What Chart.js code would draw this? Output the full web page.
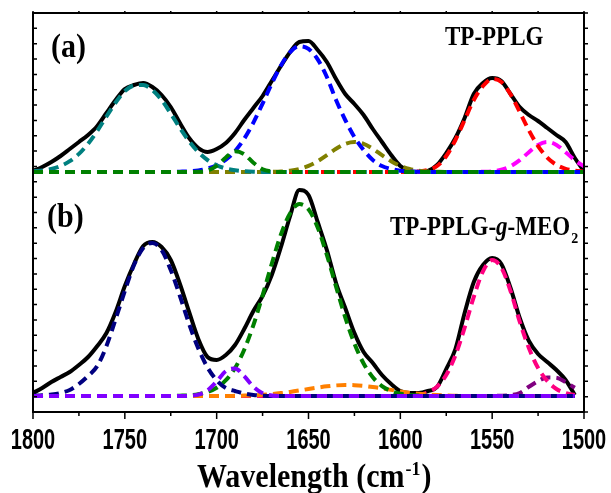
<!DOCTYPE html>
<html>
<head>
<meta charset="utf-8">
<script src="https://cdn.jsdelivr.net/npm/chart.js@4.4.0/dist/chart.umd.min.js"></script>
<style>
  html, body { margin: 0; padding: 0; background: #fff; }
  #wrap { position: relative; width: 611px; height: 493px; }
</style>
</head>
<body>
<div id="wrap"><canvas id="ftir"></canvas></div>
<script>
// wavenumber grid (cm-1), shared by every curve
const wavenumber = [
  1800, 1795, 1790, 1785, 1780, 1775, 1770, 1765, 1760, 1755,
  1750, 1745, 1740, 1735, 1730, 1725, 1720, 1715, 1710, 1705,
  1700, 1695, 1690, 1685, 1680, 1675, 1670, 1665, 1660, 1655,
  1650, 1645, 1640, 1635, 1630, 1625, 1620, 1615, 1610, 1605,
  1600, 1595, 1590, 1585, 1580, 1575, 1570, 1565, 1560, 1555,
  1550, 1545, 1540, 1535, 1530, 1525, 1520, 1515, 1510, 1505,
  1500
];
const xMajorTicks = [1800, 1750, 1700, 1650, 1600, 1550, 1500];
const xMinorTicks = [1775, 1725, 1675, 1625, 1575, 1525];

// (a) TP-PPLG : measured spectrum + fitted bands (a.u.)
const aMeasured = [
  1, 5, 10, 16, 23, 30, 37, 46, 59, 72,
  83, 87, 89, 85, 77, 65, 49, 34, 24, 20,
  23, 29, 39, 52, 64, 76, 91, 106, 120, 130,
  131, 122, 110, 93, 78, 68, 57, 43, 30, 17,
  6, 1, 0, 1, 7, 19, 34, 54, 78, 89,
  94, 91, 78, 65, 57, 51, 44, 37, 30, 14,
  1
];
const aBand1742 = [
  0.7, 1.5, 3.1, 6.0, 10.8, 18.1, 28.3, 41.1, 55.5, 69.5,
  81, 86.5, 87, 82, 72.1, 58.4, 43.9, 30.7, 19.9, 12.0,
  6.8, 3.5, 1.7, 0.8, 0.3, 0.1, 0, 0, 0, 0,
  0, 0, 0, 0, 0, 0, 0, 0, 0, 0,
  0, 0, 0, 0, 0, 0, 0, 0, 0, 0,
  0, 0, 0, 0, 0, 0, 0, 0, 0, 0,
  0
];
const aBand1689 = [
  0, 0, 0, 0, 0, 0, 0, 0, 0, 0,
  0, 0, 0, 0, 0, 0, 0, 0, 0.2, 1.5,
  6.1, 14.5, 20.8, 17.8, 9.2, 2.8, 0.5, 0, 0, 0,
  0, 0, 0, 0, 0, 0, 0, 0, 0, 0,
  0, 0, 0, 0, 0, 0, 0, 0, 0, 0,
  0, 0, 0, 0, 0, 0, 0, 0, 0, 0,
  0
];
const aBand1654 = [
  0, 0, 0, 0, 0, 0, 0, 0, 0, 0,
  0, 0, 0, 0, 0, 0, 0.3, 0.7, 1.6, 3.4,
  6.7, 12.3, 20.9, 33.3, 49.4, 68.4, 88.4, 106.6, 119.9, 125.8,
  123.2, 112.6, 95, 72, 52, 35, 22, 12, 6, 3,
  1.2, 0.5, 0.2, 0, 0, 0, 0, 0, 0, 0,
  0, 0, 0, 0, 0, 0, 0, 0, 0, 0,
  0
];
const aBand1625 = [
  0, 0, 0, 0, 0, 0, 0, 0, 0, 0,
  0, 0, 0, 0, 0, 0, 0, 0, 0, 0,
  0, 0, 0, 0, 0, 0, 0.2, 0.5, 1.3, 3.0,
  6.1, 10.8, 16.9, 23.2, 28.1, 30, 28.1, 23.2, 16.9, 10.8,
  6.1, 3.0, 1.3, 0.5, 0.2, 0, 0, 0, 0, 0,
  0, 0, 0, 0, 0, 0, 0, 0, 0, 0,
  0
];
const aBand1549 = [
  0, 0, 0, 0, 0, 0, 0, 0, 0, 0,
  0, 0, 0, 0, 0, 0, 0, 0, 0, 0,
  0, 0, 0, 0, 0, 0, 0, 0, 0, 0,
  0, 0, 0, 0, 0, 0, 0, 0, 0, 0,
  0, 0, 0.6, 2.0, 6, 16, 32, 52, 72, 86,
  93, 90, 77.7, 60.1, 41.7, 25.9, 14.4, 7.1, 3.2, 1.3,
  0.4
];
const aBand1520 = [
  0, 0, 0, 0, 0, 0, 0, 0, 0, 0,
  0, 0, 0, 0, 0, 0, 0, 0, 0, 0,
  0, 0, 0, 0, 0, 0, 0, 0, 0, 0,
  0, 0, 0, 0, 0, 0, 0, 0, 0, 0,
  0, 0, 0, 0, 0, 0, 0, 0, 0, 0.2,
  0.7, 2.3, 5.7, 11.8, 19.8, 27.1, 30, 27.1, 19.8, 11.8,
  5.7
];

// (b) TP-PPLG-g-MEO2 : measured spectrum + fitted bands (a.u.)
const bMeasured = [
  3, 8, 14, 19, 24, 31, 39, 50, 63, 84,
  110, 132, 150, 154, 149, 136, 112, 84, 57, 39,
  36, 41, 51, 67, 85, 100, 121, 149, 180, 206,
  201, 174, 146, 113, 88, 63, 44, 33, 21, 12,
  5, 3, 3, 5, 9, 27, 47, 83, 114, 131,
  138, 132, 108, 78, 55, 42, 34, 26, 16, 1,
  null
];
const bBand1735 = [
  0.3, 0.7, 1.5, 3, 6, 12, 20, 30, 50, 77,
  105, 131, 148, 153, 146, 126, 100, 72, 47.6, 28.6,
  15.7, 7.9, 5, 2.5, 1, 0.3, 0, 0, 0, 0,
  0, 0, 0, 0, 0, 0, 0, 0, 0, 0,
  0, 0, 0, 0, 0, 0, 0, 0, 0, 0,
  0, 0, 0, 0, 0, 0, 0, 0, 0, 0,
  null
];
const bBand1691 = [
  0, 0, 0, 0, 0, 0, 0, 0, 0, 0,
  0, 0, 0, 0, 0, 0, 0, 0.2, 1.4, 5.5,
  14.5, 24.9, 27.6, 19.9, 9.3, 2.8, 0.6, 0, 0, 0,
  0, 0, 0, 0, 0, 0, 0, 0, 0, 0,
  0, 0, 0, 0, 0, 0, 0, 0, 0, 0,
  0, 0, 0, 0, 0, 0, 0, 0, 0, 0,
  null
];
const bBand1654 = [
  0, 0, 0, 0, 0, 0, 0, 0, 0, 0,
  0, 0, 0, 0, 0, 0, 0.3, 0.7, 1.8, 4.0,
  8.2, 15.8, 28.0, 46.3, 70.9, 100.6, 132.3, 161.5, 182.8, 191.9,
  186.7, 168.5, 141.0, 109.4, 78.7, 52.5, 32.5, 18.7, 9.9, 4.9,
  2.2, 1.0, 0.4, 0.2, 0, 0, 0, 0, 0, 0,
  0, 0, 0, 0, 0, 0, 0, 0, 0, 0,
  null
];
const bBand1629 = [
  0, 0, 0, 0, 0, 0, 0, 0, 0, 0,
  0, 0, 0, 0, 0, 0, 0, 0, 0, 0,
  0, 0, 0.2, 0.4, 0.7, 1.2, 1.9, 2.9, 4.1, 5.5,
  7.0, 8.4, 9.7, 10.6, 11, 10.8, 10.1, 9.0, 7.6, 6.1,
  4.6, 3.3, 2.3, 1.5, 0.9, 0.5, 0.3, 0.1, 0, 0,
  0, 0, 0, 0, 0, 0, 0, 0, 0, 0,
  null
];
const bBand1550 = [
  0, 0, 0, 0, 0, 0, 0, 0, 0, 0,
  0, 0, 0, 0, 0, 0, 0, 0, 0, 0,
  0, 0, 0, 0, 0, 0, 0, 0, 0, 0,
  0, 0, 0, 0, 0, 0, 0, 0, 0, 0,
  0.1, 0.4, 1.2, 3.7, 9.4, 21.0, 40.7, 68.3, 99.1, 124.7,
  135.9, 128.3, 105.0, 74.4, 48, 28, 15, 7, 3, 1,
  null
];
const bBand1518 = [
  0, 0, 0, 0, 0, 0, 0, 0, 0, 0,
  0, 0, 0, 0, 0, 0, 0, 0, 0, 0,
  0, 0, 0, 0, 0, 0, 0, 0, 0, 0,
  0, 0, 0, 0, 0, 0, 0, 0, 0, 0,
  0, 0, 0, 0, 0, 0, 0, 0, 0, 0,
  0.1, 0.2, 0.8, 3, 9.2, 14.9, 18.6, 18.2, 13.8, 8.2,
  null
];

// vertical offsets of the two stacked spectra, and y range
const OFFSET_A = 240;
const OFFSET_B = 16;
const Y_MAX = 399;
const Y_TICKS = 26;

const serif = '"Liberation Serif", "Times New Roman", serif';
const sans = '"Liberation Sans", Arial, sans-serif';

const curve = (label, values, offset, color, dashed, order) => ({
  label: label,
  data: values.map((v, i) => ({ x: wavenumber[i], y: v === null ? null : v + offset })),
  borderColor: color,
  borderWidth: dashed ? 4 : 4,
  borderDash: dashed ? [10, 6] : [],
  pointRadius: 0,
  fill: false,
  cubicInterpolationMode: 'monotone',
  order: order,
});

const drawText = (ctx, s, x, y, font, sy, align) => {
  ctx.save();
  ctx.translate(x, y);
  ctx.scale(1, sy);
  ctx.font = font;
  ctx.textAlign = align || 'left';
  ctx.textBaseline = 'alphabetic';
  ctx.fillStyle = '#000';
  ctx.fillText(s, 0, 0);
  const w = ctx.measureText(s).width;
  ctx.restore();
  return w;
};

const framePlugin = {
  id: 'frame',
  afterDatasetsDraw(chart) {
    const { ctx, chartArea: a, scales: { x, y } } = chart;
    ctx.save();
    ctx.strokeStyle = '#000';
    ctx.lineWidth = 2;
    ctx.strokeRect(a.left, a.top, a.right - a.left, a.bottom - a.top);

    ctx.lineWidth = 1.5;
    ctx.beginPath();
    for (let k = 0; k <= Y_TICKS; k++) {
      const py = y.getPixelForValue(k * Y_MAX / Y_TICKS);
      ctx.moveTo(a.left, py); ctx.lineTo(a.left + 4, py);
      ctx.moveTo(a.right, py); ctx.lineTo(a.right + 4, py);
    }
    xMajorTicks.forEach(v => {
      const px = x.getPixelForValue(v);
      ctx.moveTo(px, a.bottom); ctx.lineTo(px, a.bottom + 7);
      ctx.moveTo(px, a.top); ctx.lineTo(px, a.top - 2);
    });
    xMinorTicks.forEach(v => {
      const px = x.getPixelForValue(v);
      ctx.moveTo(px, a.bottom); ctx.lineTo(px, a.bottom + 4);
      ctx.moveTo(px, a.top); ctx.lineTo(px, a.top - 2);
    });
    ctx.stroke();
    ctx.restore();

    // tick labels
    xMajorTicks.forEach(v => {
      drawText(ctx, String(v), x.getPixelForValue(v), 449, 'bold 20px ' + sans, 1.45, 'center');
    });

    // panel labels
    drawText(ctx, '(a)', 51, 57, 'bold 30px ' + serif, 1.1);
    drawText(ctx, '(b)', 47, 227, 'bold 30px ' + serif, 1.1);
    drawText(ctx, 'TP-PPLG', 445, 45, 'bold 23px ' + serif, 1.15);

    let cx = 390;
    cx += drawText(ctx, 'TP-PPLG-', cx, 235, 'bold 23px ' + serif, 1.15);
    cx += drawText(ctx, 'g', cx, 235, 'italic bold 23px ' + serif, 1.15);
    cx += drawText(ctx, '-MEO', cx, 235, 'bold 23px ' + serif, 1.15);
    drawText(ctx, '2', cx + 1, 243, 'bold 14px ' + serif, 1.1);

    // axis title with superscript
    let tx = 197;
    tx += drawText(ctx, 'Wavelength (cm', tx, 487, 'bold 30px ' + serif, 1.1);
    tx += drawText(ctx, '-1', tx + 1, 475, 'bold 18px ' + serif, 1.1) + 2;
    drawText(ctx, ')', tx, 487, 'bold 30px ' + serif, 1.1);
  }
};

new Chart(document.getElementById('ftir'), {
  type: 'line',
  data: {
    datasets: [
      // panel (a)
      curve('1689', aBand1689, OFFSET_A, '#008000', true, 0),
      curve('1742', aBand1742, OFFSET_A, '#008080', true, 1),
      curve('1654', aBand1654, OFFSET_A, '#0000FF', true, 1),
      curve('1625', aBand1625, OFFSET_A, '#808000', true, 1),
      curve('1549', aBand1549, OFFSET_A, '#FF0000', true, 1),
      curve('1520', aBand1520, OFFSET_A, '#FF00FF', true, 1),
      curve('TP-PPLG', aMeasured, OFFSET_A, '#000000', false, 2),
      // panel (b)
      curve('1691', bBand1691, OFFSET_B, '#8000FF', true, 0),
      curve('1735', bBand1735, OFFSET_B, '#000080', true, 1),
      curve('1654', bBand1654, OFFSET_B, '#008000', true, 1),
      curve('1629', bBand1629, OFFSET_B, '#FF8000', true, 1),
      curve('1550', bBand1550, OFFSET_B, '#FF0080', true, 1),
      curve('1518', bBand1518, OFFSET_B, '#800080', true, 1),
      curve('TP-PPLG-g-MEO2', bMeasured, OFFSET_B, '#000000', false, 2),
    ]
  },
  options: {
    responsive: true,
    maintainAspectRatio: false,
    animation: false,
    devicePixelRatio: 1,
    layout: { padding: { left: 33, right: 27, top: 13, bottom: 81 } },
    plugins: { legend: { display: false }, tooltip: { enabled: false } },
    scales: {
      x: { type: 'linear', min: 1500, max: 1800, reverse: true, display: false },
      y: { type: 'linear', min: 0, max: Y_MAX, display: false }
    }
  },
  plugins: [framePlugin]
});
</script>
</body>
</html>
